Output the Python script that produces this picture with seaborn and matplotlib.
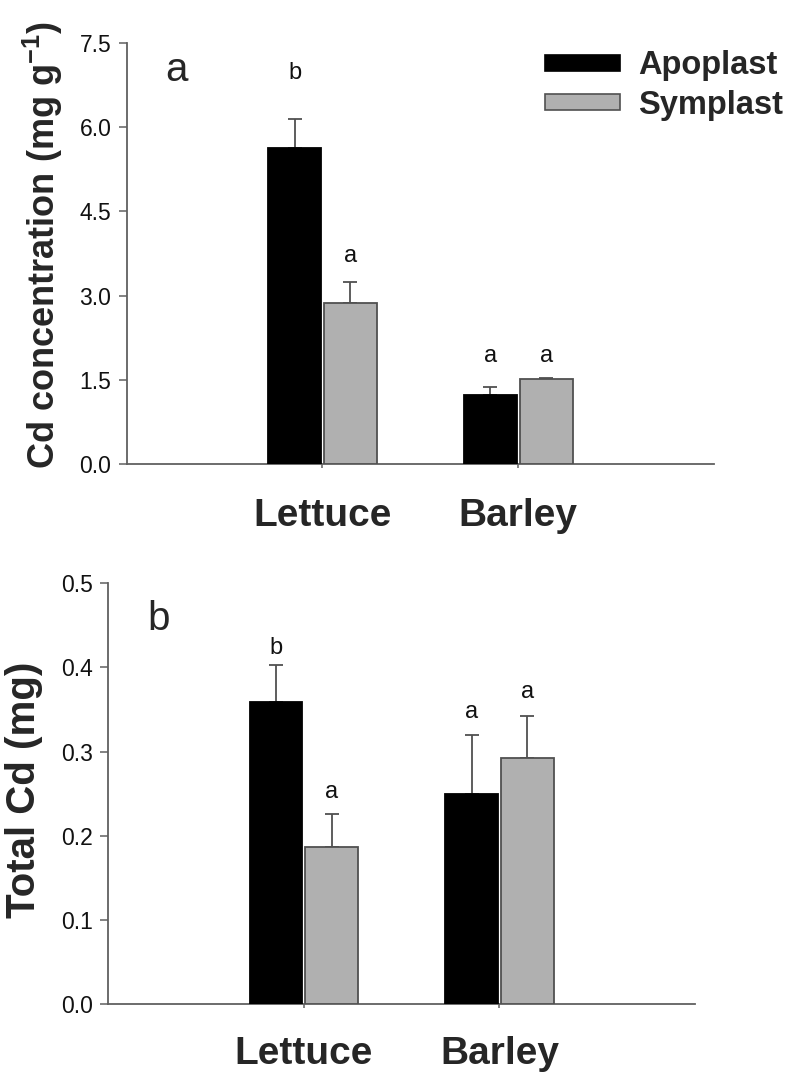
import numpy as np
import pandas as pd
import matplotlib
matplotlib.use("Agg")
import matplotlib.pyplot as plt
import seaborn as sns
from matplotlib.patches import Patch

# ---------------- data ----------------
crops = ["Lettuce", "Barley"]
fractions = ["Apoplast", "Symplast"]

conc_apoplast = [5.62, 1.24]
conc_symplast = [2.87, 1.51]
conc_apoplast_err = [0.52, 0.14]
conc_symplast_err = [0.38, 0.02]
conc_letters_apoplast = ["b", "a"]
conc_letters_symplast = ["a", "a"]
conc_letter_y_apoplast = [6.96, 1.93]
conc_letter_y_symplast = [3.71, 1.93]

total_apoplast = [0.359, 0.250]
total_symplast = [0.187, 0.293]
total_apoplast_err = [0.044, 0.070]
total_symplast_err = [0.039, 0.049]
total_letters_apoplast = ["b", "a"]
total_letters_symplast = ["a", "a"]
total_letter_y_apoplast = [0.423, 0.347]
total_letter_y_symplast = [0.252, 0.371]

conc_yticks = [0.0, 1.5, 3.0, 4.5, 6.0, 7.5]
total_yticks = [0.0, 0.1, 0.2, 0.3, 0.4, 0.5]

# ---------------- style ----------------
sns.set_style("ticks")
plt.rcParams["font.family"] = ["Liberation Sans", "DejaVu Sans"]
plt.rcParams["mathtext.fontset"] = "custom"
plt.rcParams["mathtext.rm"] = "Liberation Sans"
plt.rcParams["mathtext.bf"] = "Liberation Sans:bold"
plt.rcParams["mathtext.default"] = "bf"

BLACK = "#000000"
GRAY = "#b0b0b0"
EDGE_GRAY = "#505050"
AXIS_GRAY = "#606060"
TEXT = "#111111"
palette = {"Apoplast": BLACK, "Symplast": GRAY}
edge_colors = {"Apoplast": BLACK, "Symplast": EDGE_GRAY}

fig = plt.figure(figsize=(7.93, 10.74), dpi=100)
ax1 = fig.add_axes([0.1598, 0.5677, 0.7406, 0.3925])
ax2 = fig.add_axes([0.1366, 0.0649, 0.7398, 0.3920])


def draw_panel(ax, apo, sym, apo_err, sym_err, let_apo, let_sym, ly_apo, ly_sym,
               yticks, ylabel, ylabel_size, ylabel_x, panel_letter, letter_pos, xpad):
    df = pd.DataFrame({
        "crop": crops * 2,
        "fraction": [fractions[0]] * len(crops) + [fractions[1]] * len(crops),
        "value": list(apo) + list(sym),
        "err": list(apo_err) + list(sym_err),
        "letter": list(let_apo) + list(let_sym),
        "ly": list(ly_apo) + list(ly_sym),
    })
    sns.barplot(data=df, x="crop", y="value", hue="fraction", order=crops,
                hue_order=fractions, palette=palette, width=0.57, gap=0.05,
                errorbar=None, legend=False, linewidth=1.3, ax=ax, zorder=3)
    # identify each bar from its position
    for p in ax.patches:
        xc = p.get_x() + p.get_width() / 2
        ci = int(round(xc))
        frac = fractions[0] if xc < ci else fractions[1]
        p.set_edgecolor(edge_colors[frac])
        row = df[(df.crop == crops[ci]) & (df.fraction == frac)].iloc[0]
        ax.errorbar(xc, p.get_height(), yerr=[[0], [row.err]], fmt="none",
                    ecolor=EDGE_GRAY, elinewidth=1.3, capsize=5, capthick=1.3,
                    zorder=2)
        ax.text(xc, row.ly, row.letter, ha="center", va="center",
                fontsize=17, color=TEXT)

    ax.set_xlim(-1, 2)
    ax.set_ylim(yticks[0], yticks[-1])
    ax.set_yticks(yticks)
    ax.set_yticklabels([f"{t:.1f}" for t in yticks], fontsize=16.5, color=TEXT)
    ax.set_xticks(range(len(crops)))
    ax.set_xticklabels(crops, fontsize=28, fontweight="bold")
    ax.set_xlabel("")
    ax.set_ylabel(ylabel, fontsize=ylabel_size, fontweight="bold")
    ax.yaxis.set_label_coords(ylabel_x[0], ylabel_x[1])
    for s in ["top", "right"]:
        ax.spines[s].set_visible(False)
    for s in ["left", "bottom"]:
        ax.spines[s].set_color(AXIS_GRAY)
        ax.spines[s].set_linewidth(1.3)
    ax.tick_params(axis="y", direction="out", length=6, width=1.1,
                   color=AXIS_GRAY, pad=5)
    ax.tick_params(axis="x", direction="out", length=3, width=1.1,
                   color=AXIS_GRAY, pad=xpad)
    ax.text(letter_pos[0], letter_pos[1], panel_letter, transform=ax.transAxes,
            ha="center", va="baseline", fontsize=29)


draw_panel(ax1, conc_apoplast, conc_symplast, conc_apoplast_err, conc_symplast_err,
           conc_letters_apoplast, conc_letters_symplast,
           conc_letter_y_apoplast, conc_letter_y_symplast,
           conc_yticks, r"Cd concentration (mg g$^{-1}$)", 26,
           (-0.105, 0.52), "a", (0.085, 0.910), 21)

draw_panel(ax2, total_apoplast, total_symplast, total_apoplast_err, total_symplast_err,
           total_letters_apoplast, total_letters_symplast,
           total_letter_y_apoplast, total_letter_y_symplast,
           total_yticks, "Total Cd (mg)", 29,
           (-0.111, 0.509), "b", (0.0864, 0.889), 20)

handles = [Patch(facecolor=BLACK, edgecolor=BLACK, linewidth=1.2),
           Patch(facecolor=GRAY, edgecolor=EDGE_GRAY, linewidth=1.2)]
fig.legend(handles, fractions, loc="upper left", bbox_to_anchor=(0.687, 0.953),
           bbox_transform=fig.transFigure, frameon=False,
           prop={"weight": "bold", "size": 23.5}, handlelength=2.3,
           handleheight=0.37, handletextpad=0.55, labelspacing=0.25,
           borderpad=0, borderaxespad=0)

fig.savefig("out.png", dpi=100)
